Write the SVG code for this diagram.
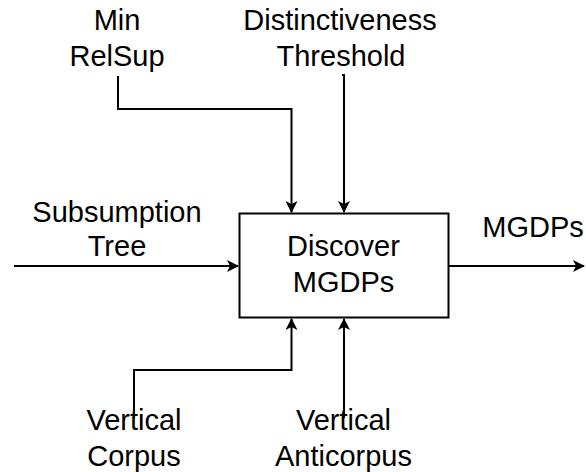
<svg xmlns="http://www.w3.org/2000/svg" width="586" height="472" viewBox="0 0 586 472">
  <style>
    .lbl { font-family: "Liberation Sans", Arial, sans-serif; font-size: 29px; fill: #000; text-anchor: middle; }
    .wire { fill: none; stroke: #000; stroke-width: 2; }
  </style>
  <defs>
    <marker id="arrow" viewBox="0 0 12 12" refX="11" refY="6" markerWidth="12" markerHeight="12" markerUnits="userSpaceOnUse" orient="auto">
      <path d="M0,0 L12,6 L0,12 L3,6 Z" fill="#000"/>
    </marker>
  </defs>
  <rect width="586" height="472" fill="#fff"/>

  <!-- process box -->
  <g id="discover">
    <rect x="239.5" y="213.5" width="209" height="104" fill="#fff" stroke="#000" stroke-width="2"/>
    <text class="lbl" x="343.5" y="256">Discover</text>
    <text class="lbl" x="343.5" y="292">MGDPs</text>
  </g>

  <!-- inputs, controls and output -->
  <g id="connectors">
    <path class="wire" d="M118,76 V109 H291.5 V212" marker-end="url(#arrow)"/>
    <path class="wire" d="M342,75 H344 V212" marker-end="url(#arrow)"/>
    <path class="wire" d="M14,266 H238" marker-end="url(#arrow)"/>
    <path class="wire" d="M449,266 H584" marker-end="url(#arrow)"/>
    <path class="wire" d="M134,418 V370 H291.5 V319" marker-end="url(#arrow)"/>
    <path class="wire" d="M344,418 V319" marker-end="url(#arrow)"/>
  </g>

  <g id="min-relsup">
    <text class="lbl" x="117" y="30">Min</text>
    <text class="lbl" x="117" y="66">RelSup</text>
  </g>
  <g id="threshold">
    <text class="lbl" x="340" y="30">Distinctiveness</text>
    <text class="lbl" x="341" y="66">Threshold</text>
  </g>
  <g id="subsumption-tree">
    <text class="lbl" x="117" y="222">Subsumption</text>
    <text class="lbl" x="117" y="256">Tree</text>
  </g>
  <g id="mgdps-out">
    <text class="lbl" x="533" y="237">MGDPs</text>
  </g>
  <g id="vertical-corpus">
    <text class="lbl" x="134" y="430">Vertical</text>
    <text class="lbl" x="134" y="466">Corpus</text>
  </g>
  <g id="vertical-anticorpus">
    <text class="lbl" x="343.5" y="430">Vertical</text>
    <text class="lbl" x="343.5" y="466">Anticorpus</text>
  </g>
</svg>
